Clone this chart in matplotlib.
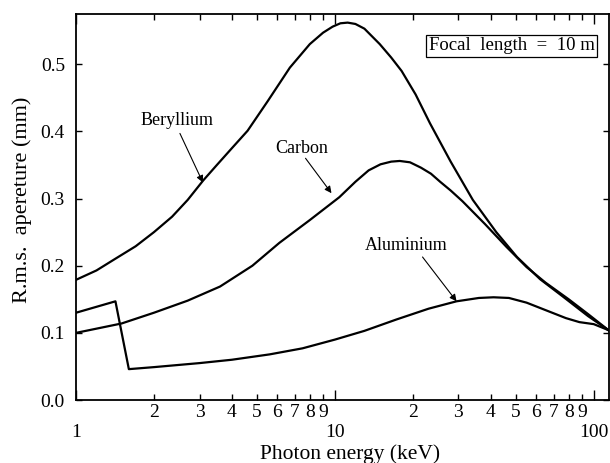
import matplotlib
matplotlib.use("Agg")
import matplotlib.pyplot as plt
from matplotlib.ticker import FixedLocator, FixedFormatter

plt.rcParams['font.family'] = ['Liberation Serif', 'DejaVu Serif']

# photon energy (keV) and r.m.s. aperture (mm)
be_energy = [1.0, 1.2, 1.4, 1.7, 2.0, 2.35, 2.7, 3.1, 3.5, 4.0, 4.6, 5.5, 6.7, 8.0,
             9.0, 9.8, 10.5, 11.2, 12.0, 13.0, 14.9, 16.5, 18.1, 20.5, 23.3, 28.0,
             34.1, 42.0, 50.5, 62.0, 76.0, 95.0, 114.0]
be_aperture = [0.179, 0.193, 0.209, 0.229, 0.250, 0.273, 0.298, 0.327, 0.350, 0.375,
               0.401, 0.445, 0.495, 0.530, 0.547, 0.556, 0.561, 0.562, 0.560, 0.553,
               0.530, 0.510, 0.490, 0.455, 0.412, 0.355, 0.298, 0.250, 0.213, 0.180,
               0.154, 0.125, 0.104]

c_energy = [1.0, 1.5, 2.0, 2.7, 3.6, 4.8, 6.1, 8.0, 10.4, 12.0, 13.5, 15.0, 16.5,
            17.8, 19.5, 21.5, 23.5, 25.5, 28.0, 31.1, 38.0, 46.0, 55.0, 65.0, 80.0,
            95.0, 114.0]
c_aperture = [0.100, 0.114, 0.130, 0.148, 0.169, 0.200, 0.234, 0.268, 0.302, 0.325,
              0.342, 0.351, 0.355, 0.356, 0.354, 0.346, 0.337, 0.325, 0.312, 0.296,
              0.262, 0.228, 0.198, 0.175, 0.150, 0.128, 0.104]

al_energy = [1.0, 1.42, 1.60, 2.0, 3.0, 4.0, 5.6, 7.5, 10.0, 13.0, 17.3, 23.0, 29.5,
             36.0, 41.0, 47.0, 55.0, 65.0, 78.0, 88.0, 100.0, 114.0]
al_aperture = [0.130, 0.147, 0.046, 0.049, 0.055, 0.060, 0.068, 0.077, 0.090, 0.103,
               0.120, 0.136, 0.147, 0.152, 0.153, 0.152, 0.145, 0.134, 0.122, 0.116,
               0.113, 0.104]

y_ticks = [0.0, 0.1, 0.2, 0.3, 0.4, 0.5]
x_major = [1, 10, 100]
x_minor = [2, 3, 4, 5, 6, 7, 8, 9, 20, 30, 40, 50, 60, 70, 80, 90]

fig = plt.figure(figsize=(6.10, 4.63), dpi=100)
ax = fig.add_axes([0.1246, 0.136, 0.873, 0.834])

for e, a in [(be_energy, be_aperture), (c_energy, c_aperture), (al_energy, al_aperture)]:
    ax.plot(e, a, color='black', lw=1.6)

ax.set_xscale('log')
ax.set_xlim(1, 114)
ax.set_ylim(0, 0.575)

ax.xaxis.set_major_locator(FixedLocator(x_major))
ax.xaxis.set_major_formatter(FixedFormatter([str(v) for v in x_major]))
ax.xaxis.set_minor_locator(FixedLocator(x_minor))
ax.xaxis.set_minor_formatter(FixedFormatter([str(v)[0] for v in x_minor]))
ax.set_yticks(y_ticks)
ax.set_yticklabels([f"{v:.1f}" for v in y_ticks])

ax.tick_params(which='both', direction='in', top=True, right=True, labelsize=14, width=1.0)
ax.tick_params(axis='x', which='major', length=7, pad=17)
ax.tick_params(axis='x', which='minor', length=4, pad=3)
ax.tick_params(axis='y', length=4, pad=8)
for s in ax.spines.values():
    s.set_linewidth(1.3)

ax.set_xlabel("Photon energy (keV)", fontsize=15.5)
ax.set_ylabel("R.m.s.  apereture (mm)", fontsize=16)
ax.xaxis.set_label_coords(0.515, -0.115)
ax.yaxis.set_label_coords(-0.082, 0.518)

arrow = dict(arrowstyle='-|>', color='black', lw=0.8, mutation_scale=10, shrinkA=0, shrinkB=0)
ax.text(2.45, 0.416, "Beryllium", fontsize=13, ha='center', va='center')
ax.annotate('', xy=(3.09, 0.324), xytext=(2.52, 0.397), arrowprops=arrow)
ax.text(7.45, 0.374, "Carbon", fontsize=13, ha='center', va='center')
ax.annotate('', xy=(9.7, 0.308), xytext=(7.7, 0.36), arrowprops=arrow)
ax.text(18.9, 0.230, "Aluminium", fontsize=13, ha='center', va='center')
ax.annotate('', xy=(29.5, 0.147), xytext=(21.8, 0.213), arrowprops=arrow)

ax.text(0.818, 0.917, "Focal  length  =  10 m", transform=ax.transAxes, fontsize=13.5,
        ha='center', va='center',
        bbox=dict(boxstyle='square,pad=0.12', facecolor='white', edgecolor='black', lw=0.9))

fig.savefig("out.png", dpi=100)
